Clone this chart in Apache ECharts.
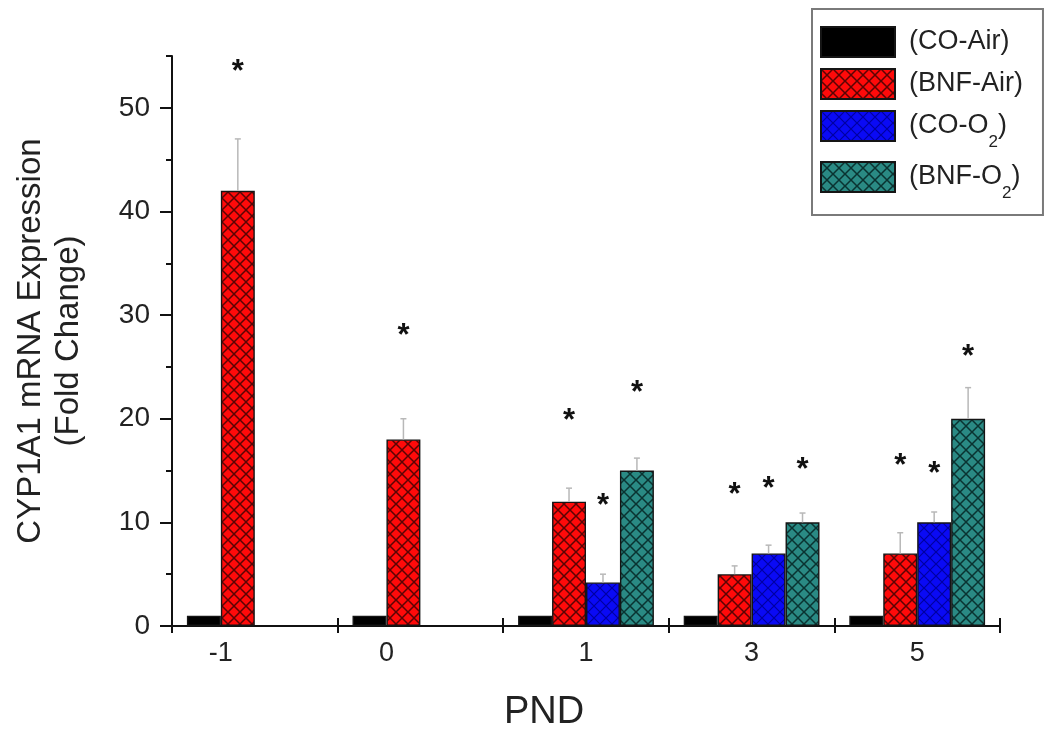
<!DOCTYPE html>
<html>
<head>
<meta charset="utf-8">
<script src="https://cdn.jsdelivr.net/npm/echarts@6/dist/echarts.min.js"></script>
<style>html,body{margin:0;padding:0;background:#fff}#c{width:1050px;height:738px}</style>
</head>
<body>
<div id="c"></div>
<script>
// ---- data ----
const categories = ['-1', '0', '1', '3', '5'];
const seriesNames = ['(CO-Air)', '(BNF-Air)', '(CO-O2)', '(BNF-O2)'];
const coAir  = [1, 1, 1, 1, 1];
const bnfAir = [42, 18, 12, 5, 7];
const coO2   = [null, null, 4.2, 7, 10];
const bnfO2  = [null, null, 15, 10, 20];
// upper error (SE) magnitudes
const coAirErr  = [null, null, null, null, null];
const bnfAirErr = [5, 2, 1.3, 0.8, 2];
const coO2Err   = [null, null, 0.8, 0.8, 1];
const bnfO2Err  = [null, null, 1.2, 0.9, 3];
// heights (in y units) of significance asterisks
const coAirSig  = [null, null, null, null, null];
const bnfAirSig = [54, 28.5, 20.3, 13.2, 16];
const coO2Sig   = [null, null, 12.1, 13.8, 15.2];
const bnfO2Sig  = [null, null, 23, 15.6, 26.5];
const yTicks = [0, 10, 20, 30, 40, 50];

const FONT = "'Liberation Sans', Arial, sans-serif";

function hatch(bg, line, size, lw) {
  const c = document.createElement('canvas');
  c.width = size; c.height = size;
  const g = c.getContext('2d');
  g.fillStyle = bg; g.fillRect(0, 0, size, size);
  if (line) {
    g.strokeStyle = line; g.lineWidth = lw;
    g.beginPath();
    g.moveTo(-1, -1); g.lineTo(size + 1, size + 1);
    g.moveTo(size + 1, -1); g.lineTo(-1, size + 1);
    g.stroke();
  }
  return { image: c, repeat: 'repeat' };
}

const fills = [
  '#000000',
  hatch('#ff0a0a', '#5a0404', 12, 1.5),
  hatch('#0a0af5', '#0000a0', 12, 1.2),
  hatch('#2a8a84', '#0a3331', 12, 1.5)
];
const values = [coAir, bnfAir, coO2, bnfO2];
const errs = [coAirErr, bnfAirErr, coO2Err, bnfO2Err];
const sigs = [coAirSig, bnfAirSig, coO2Sig, bnfO2Sig];
const BARW = 0.205;

const series = [];
values.forEach((vals, s) => {
  series.push({
    name: seriesNames[s],
    type: 'bar',
    xAxisIndex: 0, yAxisIndex: 0,
    barWidth: (BARW * 100) + '%',
    barGap: '0%',
    data: vals.map(v => v == null ? '-' : v),
    itemStyle: { color: fills[s], borderColor: '#151515', borderWidth: 1.4 },
    emphasis: { disabled: true },
    z: 2
  });
});
values.forEach((vals, s) => {
  const d = [];
  vals.forEach((v, i) => {
    if (v == null) return;
    d.push([i, v, errs[s][i] == null ? 0 : errs[s][i], sigs[s][i] == null ? -1 : sigs[s][i]]);
  });
  series.push({
    type: 'custom',
    xAxisIndex: 0, yAxisIndex: 0,
    silent: true,
    z: 5,
    data: d,
    renderItem: function (params, api) {
      const i = api.value(0), v = api.value(1), e = api.value(2), sg = api.value(3);
      const band = api.size([1, 0])[0];
      const cx = api.coord([i, 0])[0] + (s - 1.5) * band * BARW;
      const children = [];
      if (e > 0) {
        const y0 = api.coord([i, v])[1];
        const y1 = api.coord([i, v + e])[1];
        children.push({ type: 'line', shape: { x1: cx, y1: y0, x2: cx, y2: y1 }, style: { stroke: '#b8b8b8', lineWidth: 1.5 } });
        children.push({ type: 'line', shape: { x1: cx - 3, y1: y1, x2: cx + 3, y2: y1 }, style: { stroke: '#b8b8b8', lineWidth: 1.5 } });
      }
      if (sg >= 0) {
        const ys = api.coord([i, sg])[1];
        children.push({ type: 'text', x: cx, y: ys + 6, style: { text: '*', font: 'bold 31px ' + FONT, fill: '#111', align: 'center', verticalAlign: 'middle' } });
      }
      return { type: 'group', children: children };
    }
  });
});

const xData = categories.map((c, i) => i < 2
  ? { value: c, textStyle: { padding: [0, 68, 0, 0] } }
  : c);

const subRich = {
  sub: { fontSize: 17, fontFamily: FONT, color: '#222', padding: [22, 0, 0, 0], verticalAlign: 'top', lineHeight: 17 },
  m: { fontSize: 27, fontFamily: FONT, color: '#222', verticalAlign: 'top', lineHeight: 28 }
};

const option = {
  animation: false,
  backgroundColor: '#fff',
  grid: { left: 172, right: 50, top: 56, bottom: 112, containLabel: false },
  legend: {
    orient: 'vertical',
    left: 812, top: 9,
    padding: [17, 20, 13, 8],
    borderColor: '#7a7a7a', borderWidth: 2,
    backgroundColor: '#fff',
    itemWidth: 74, itemHeight: 30, itemGap: 10,
    icon: 'rect',
    selectedMode: false,
    data: seriesNames,
    textStyle: { fontSize: 27, fontFamily: FONT, color: '#222', padding: [0, 0, 0, 9], rich: subRich },
    formatter: function (name) {
      const m = name.match(/^(.*O)2(\))$/);
      if (m) return '{m|' + m[1] + '}{sub|2}{m|' + m[2] + '}';
      return '{m|' + name + '}';
    }
  },
  xAxis: [
    {
      type: 'category', data: xData, position: 'bottom',
      name: 'PND', nameLocation: 'middle', nameGap: 68,
      nameTextStyle: { fontSize: 38, fontFamily: FONT, color: '#222', padding: [0, 84, 0, 0] },
      axisLine: { lineStyle: { color: '#111', width: 2 } },
      axisTick: { show: true, inside: false, length: 7, lineStyle: { color: '#111', width: 2 } },
      axisLabel: { fontSize: 27, fontFamily: FONT, color: '#222', margin: 14 },
      splitLine: { show: false }
    },
    {
      type: 'category', data: categories, position: 'bottom', offset: 0,
      axisLine: { show: false },
      axisTick: { show: true, inside: true, length: 8, lineStyle: { color: '#111', width: 2 } },
      axisLabel: { show: false },
      splitLine: { show: false }
    }
  ],
  yAxis: [
    {
      type: 'value', min: 0, max: 55, interval: 5, position: 'left',
      name: 'CYP1A1 mRNA Expression\n(Fold Change)',
      nameLocation: 'middle', nameGap: 84, nameRotate: 90,
      nameTextStyle: { fontSize: 33, fontFamily: FONT, color: '#222', lineHeight: 38 },
      axisLine: { show: true, lineStyle: { color: '#111', width: 2 } },
      axisTick: { show: true, inside: false, length: 6, lineStyle: { color: '#111', width: 2 } },
      axisLabel: { show: false },
      splitLine: { show: false }
    },
    {
      type: 'value', min: 0, max: 55, position: 'left', offset: 0,
      axisLine: { show: false },
      axisTick: { show: true, inside: false, length: 12, customValues: yTicks, lineStyle: { color: '#111', width: 2 } },
      axisLabel: { show: true, customValues: yTicks, fontSize: 28, fontFamily: FONT, color: '#222', margin: 22 },
      splitLine: { show: false }
    }
  ],
  series: series
};

const chart = echarts.init(document.getElementById('c'), null, { renderer: 'canvas' });
chart.setOption(option);
</script>
</body>
</html>
